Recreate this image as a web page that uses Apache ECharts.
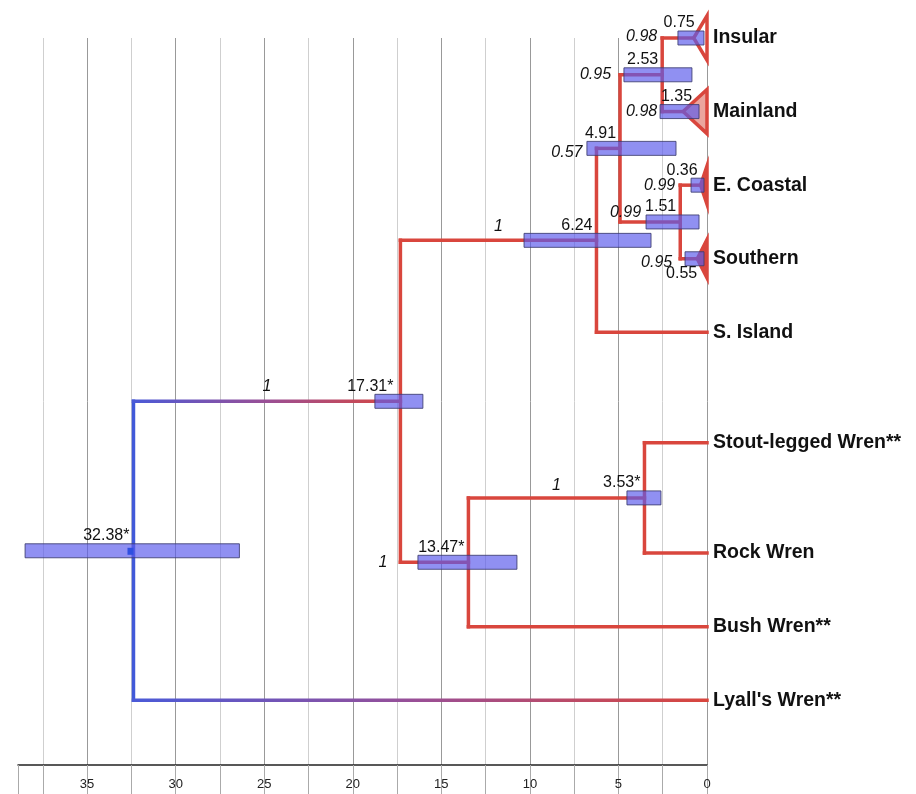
<!DOCTYPE html>
<html><head><meta charset="utf-8">
<script src="https://cdn.jsdelivr.net/npm/echarts@6/dist/echarts.min.js"></script>
<style>html,body{margin:0;padding:0;background:#fff}#chart{width:916px;height:794px}</style>
</head><body><div id="chart"></div>
<script>
// ---------------- data ----------------
const tipNames = ['Insular','Mainland','E. Coastal','Southern','S. Island','Stout-legged Wren**','Rock Wren','Bush Wren**',"Lyall's Wren**"];
const tipRows = [0,1,2,3,4,5.5,7,8,9];
const tipParents = ['F','G','I','J','C','K','K','B','root'];
const tipCollapsed = [true,true,true,true,false,false,false,false,false];

const nodeIds = ['root','A','B','C','D','E','F','G','H','I','J','K'];
const nodeParents = [null,'root','A','A','C','D','E','E','D','H','H','B'];
const nodeAges = [32.38,17.31,13.47,6.24,4.91,2.53,0.75,1.35,1.51,0.36,0.55,3.53];
const nodeAgeLabels = ['32.38*','17.31*','13.47*','6.24','4.91','2.53','0.75','1.35','1.51','0.36','0.55','3.53*'];
const hpdMin = [26.4,16.04,10.73,3.16,1.75,0.85,0.17,0.45,0.45,0.17,0.17,2.6];
const hpdMax = [38.5,18.75,16.32,10.33,6.78,4.69,1.64,2.65,3.44,0.9,1.24,4.52];
const posteriors = ['','1','1','1','0.57','0.95','0.98','0.98','0.99','0.99','0.95','1'];

const xTickLabels = [0,5,10,15,20,25,30,35];

// ---------------- styling / layout ----------------
const RED = '#d9463d', BLUE = '#4159d9';
const GRAD = {type:'linear', x:0, y:0, x2:1, y2:0,
  colorStops:[{offset:0,color:'#4a5ad8'},{offset:0.5,color:'#9a4f95'},{offset:1,color:RED}]};
const triangleFill = ['rgba(255,255,255,0.9)','#eba59e',RED,RED];
const triangleHalf = [0.3,0.3,0.26,0.26]; // in row units
const BAR_HALF = 0.095;
// posterior label placement: [mode, dx, dy]
const postLayout = {A:['mid',0,-15], B:['left',-13,0], C:['mid',0,-14], D:['left',-14,4], E:['left',-9,0],
  F:['left',-5,-1], G:['left',-5,0], H:['left',21,-9], I:['left',-5,0], J:['left',-8,4], K:['mid',0,-12]};
// age label nudges: [dx, dy] relative to default (right-aligned left of node, above bar)
const ageNudge = {F:[5,0], G:[13,0], I:[1,0], J:[4,30], A:[-3,0]};

// ---------------- tree geometry (row units) ----------------
const idx = id => nodeIds.indexOf(id);
function childRows(id){
  const r = [];
  nodeIds.forEach((n,i)=>{ if(nodeParents[i]===id) r.push(nodeRow(n)); });
  tipParents.forEach((p,i)=>{ if(p===id) r.push(tipRows[i]); });
  return r;
}
function nodeRow(id){ const r = childRows(id); return (Math.min(...r)+Math.max(...r))/2; }
const nodeRows = nodeIds.map(nodeRow);

// branches: [x1,y1,x2,y2,mode]  mode 0 red, 1 gradient, 2 blue
const branchData = [];
nodeIds.forEach((id,i)=>{
  if(nodeParents[i]){
    const pi = idx(nodeParents[i]);
    branchData.push([nodeAges[pi], nodeRows[i], nodeAges[i], nodeRows[i], nodeParents[i]==='root'?1:0]);
  }
  const cr = childRows(id);
  if(cr.length>1) branchData.push([nodeAges[i], Math.min(...cr), nodeAges[i], Math.max(...cr), id==='root'?2:0]);
});
tipNames.forEach((t,i)=>{
  if(!tipCollapsed[i]){
    const pi = idx(tipParents[i]);
    branchData.push([nodeAges[pi], tipRows[i], 0, tipRows[i], tipParents[i]==='root'?1:0]);
  }
});
const triData = [];
tipNames.forEach((t,i)=>{ if(tipCollapsed[i]) triData.push([nodeAges[idx(tipParents[i])], tipRows[i], triData.length]); });
const barData = nodeIds.map((id,i)=>[hpdMax[i], nodeRows[i], hpdMin[i], i]);
const tipData = tipNames.map((t,i)=>[0, tipRows[i], i]);
const nodeLabelData = nodeIds.map((id,i)=>[nodeAges[i], nodeRows[i], i]);

const FONT = '"Liberation Sans", Arial, Helvetica, sans-serif';

const chart = echarts.init(document.getElementById('chart'), null, {renderer:'canvas'});
chart.setOption({
  animation:false,
  backgroundColor:'#fff',
  grid:{left:18, right:209, top:38, bottom:29, containLabel:false},
  xAxis:{type:'value', inverse:true, min:0, max:38.9, interval:2.5,
    axisLine:{show:true, onZero:false, lineStyle:{color:'#222', width:1.5}},
    axisTick:{show:true, length:29, lineStyle:{color:'#aaa', width:1}},
    axisLabel:{show:true, customValues:xTickLabels, color:'#222', fontSize:13, fontFamily:FONT, margin:13,
      formatter:v=>String(v)},
    splitLine:{show:true, showMaxLine:false, lineStyle:{color:['#999','#cfcfcf'], width:1}}
  },
  yAxis:{type:'value', inverse:true, min:0, max:9.88, show:false, splitLine:{show:false}},
  series:[
    { type:'custom', z:2, clip:false, data:branchData, encode:{x:[0,2], y:[1,3]},
      renderItem:(params, api)=>{
        const p1 = api.coord([api.value(0), api.value(1)]);
        const p2 = api.coord([api.value(2), api.value(3)]);
        const m = api.value(4);
        return {type:'line', shape:{x1:p1[0], y1:p1[1], x2:p2[0], y2:p2[1]},
          style:{stroke: m===1?GRAD:(m===2?BLUE:RED), lineWidth:3.5, lineCap:'square'}};
      }},
    { type:'custom', z:3, clip:false, data:triData, encode:{x:0, y:1},
      renderItem:(params, api)=>{
        const k = api.value(2);
        const a = api.coord([api.value(0), api.value(1)]);
        const t = api.coord([0, api.value(1)-triangleHalf[k]]);
        const b = api.coord([0, api.value(1)+triangleHalf[k]]);
        return {type:'polygon', shape:{points:[a,t,b]},
          style:{fill:triangleFill[k], stroke:RED, lineWidth:3.5, lineJoin:'miter'}};
      }},
    { type:'custom', z:4, clip:false, data:barData, encode:{x:[0,2], y:1},
      renderItem:(params, api)=>{
        const l = api.coord([api.value(0), api.value(1)-BAR_HALF]);
        const r = api.coord([api.value(2), api.value(1)+BAR_HALF]);
        const children = [{type:'rect', shape:{x:l[0], y:l[1], width:r[0]-l[0], height:r[1]-l[1]},
          style:{fill:'rgba(92,92,236,0.68)', stroke:'rgba(60,60,110,0.85)', lineWidth:1}}];
        if(nodeIds[api.value(3)]==='root'){
          const c = api.coord([nodeAges[0], nodeRows[0]]);
          children.push({type:'rect', shape:{x:c[0]-6, y:c[1]-3, width:6, height:7}, style:{fill:'#2f4fe0'}});
        }
        return {type:'group', children};
      }},
    { type:'custom', z:5, clip:false, data:tipData, encode:{x:0, y:1},
      renderItem:(params, api)=>{
        const p = api.coord([api.value(0), api.value(1)]);
        return {type:'text', x:p[0]+6, y:p[1], style:{text:tipNames[api.value(2)], fill:'#111',
          font:'bold 19.5px '+FONT, align:'left', verticalAlign:'middle'}};
      }},
    { type:'custom', z:6, clip:false, data:nodeLabelData, encode:{x:0, y:1},
      renderItem:(params, api)=>{
        const i = api.value(2), id = nodeIds[i];
        const p = api.coord([api.value(0), api.value(1)]);
        const nud = ageNudge[id] || [0,0];
        const children = [{type:'text', x:p[0]-4+nud[0], y:p[1]-15+nud[1],
          style:{text:nodeAgeLabels[i], fill:'#111', font:'16px '+FONT, align:'right', verticalAlign:'middle'}}];
        if(posteriors[i]){
          const lay = postLayout[id];
          const pp = api.coord([nodeAges[idx(nodeParents[i])], api.value(1)]);
          if(lay[0]==='left'){
            children.push({type:'text', x:pp[0]+lay[1], y:pp[1]+lay[2],
              style:{text:posteriors[i], fill:'#111', font:'italic 16px '+FONT, align:'right', verticalAlign:'middle'}});
          } else {
            children.push({type:'text', x:(pp[0]+p[0])/2+lay[1], y:pp[1]+lay[2],
              style:{text:posteriors[i], fill:'#111', font:'italic 16px '+FONT, align:'center', verticalAlign:'middle'}});
          }
        }
        return {type:'group', children};
      }}
  ]
});
</script></body></html>
